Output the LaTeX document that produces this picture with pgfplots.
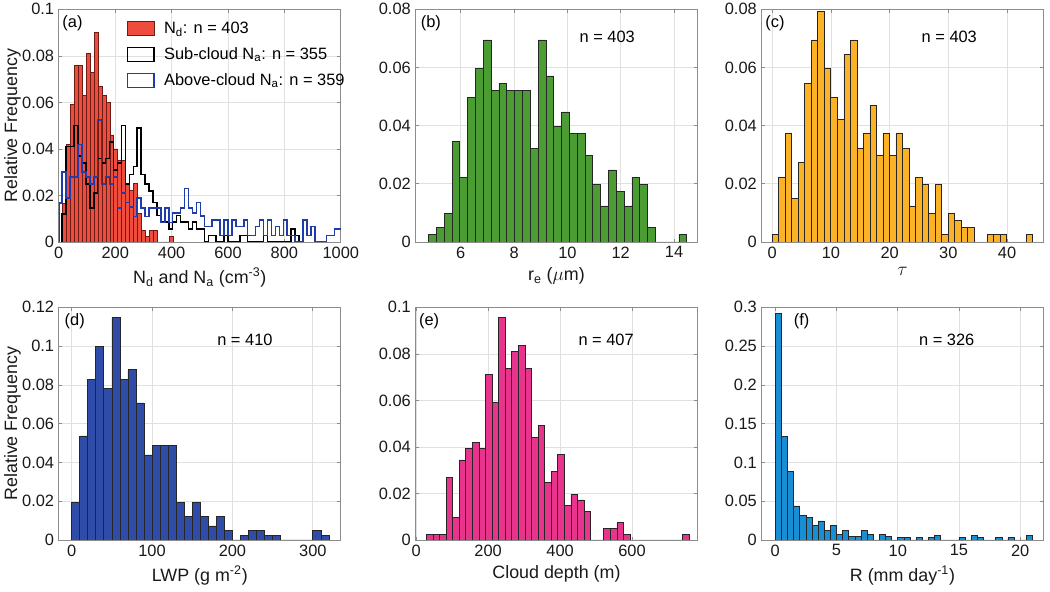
\documentclass[border=0pt]{standalone}
\usepackage{pgfplots}
\pgfplotsset{compat=1.18}
\usepackage{fontspec}
\setmainfont{Liberation Sans}
\definecolor{ndred}{RGB}{238,76,60}
\definecolor{nddark}{RGB}{110,28,22}
\definecolor{abblue}{RGB}{30,60,170}
\definecolor{regreen}{RGB}{76,156,52}
\definecolor{tauorange}{RGB}{252,178,38}
\definecolor{lwpblue}{RGB}{46,76,168}
\definecolor{cdpink}{RGB}{232,52,140}
\definecolor{rblue}{RGB}{24,142,212}
\newcommand{\lbl}{\fontsize{12.3}{14}\selectfont}
\pgfplotsset{
 mplot/.style={
  scale only axis, width=211.5pt, height=174.5pt, anchor=south west,
  axis line style={draw=black!45, line width=0.5pt},
  tick align=inside, major tick length=2.5pt,
  tick style={draw=black!45, line width=0.5pt},
  grid=major, major grid style={draw=black!12, line width=0.5pt},
  ymin=0, scaled y ticks=false, scaled x ticks=false,
  /pgf/number format/assume math mode=true,
  /pgf/number format/set thousands separator={},
  yticklabel style={/pgf/number format/fixed, /pgf/number format/precision=2},
  tick label style={font=\lbl, text=black!90},
  label style={font=\fontsize{13.4}{15}\selectfont, text=black!90},
  ylabel style={at={(axis description cs:-0.118,0.5)}, anchor=south},
 },
 hbar/.style={ybar interval, fill=#1, draw=black!85, line width=0.5pt},
}
\begin{document}
\begin{tikzpicture}
\path[use as bounding box] (0,0) rectangle (787.5pt,444pt);
% ---------------- (a)
\begin{axis}[mplot, at={(44.1pt,262.5pt)}, xmin=0, xmax=1000, ymax=0.1,
  xtick={0,200,400,600,800,1000}, ytick={0,0.02,0.04,0.06,0.08,0.1},
  xlabel={N\textsubscript{d} and N\textsubscript{a} (cm\textsuperscript{-3})},
  ylabel={Relative Frequency},
  legend cell align=left,
  legend style={at={(0.24,0.958)}, anchor=north west, draw=none, fill=none,
    font=\lbl, row sep=5pt, column sep=5pt, inner sep=0pt, nodes={inner sep=2pt}}]
\addplot[hbar=ndred, draw=nddark,
  legend image code/.code={\draw[fill=ndred,draw=nddark,line width=0.5pt] (0pt,-5.2pt) rectangle (20pt,5.2pt);}]
 table {
x y
13 0.0167
27 0.042
41 0.059
55 0.076
69 0.076
83 0.063
97 0.081
111 0.073
125 0.090
139 0.067
153 0.063
167 0.060
181 0.046
195 0.040
209 0.035
223 0.035
237 0.025
251 0.022
265 0.025
279 0.0124
293 0.005
307 0.0025
321 0.005
335 0.005
349 0
363 0
377 0
391 0.0025
405 0
};
\addlegendentry{N\textsubscript{d}: n = 403}
\addplot[const plot, draw=black, line width=1.1pt,
  legend image code/.code={\draw[black,line width=1pt] (0pt,-5.2pt) rectangle (20pt,5.2pt);}]
 table {
x y
12 0
12 0.012
26 0.041
40 0.041
54 0.050
68 0.037
82 0.034
96 0.025
110 0.0146
124 0.021
138 0.036
152 0.034
166 0.036
180 0.043
194 0.031
208 0.034
222 0.050
236 0.025
250 0.029
264 0.0325
278 0.049
292 0.029
306 0.025
320 0.022
334 0.017
348 0.0113
362 0.0085
376 0.0085
390 0.0056
404 0.0085
418 0.0113
432 0.0085
446 0.0085
460 0.0056
474 0.0085
488 0.0056
502 0.0056
516 0
530 0.0028
544 0.0028
558 0
572 0
586 0.0028
600 0
614 0
628 0
642 0.0028
656 0.0028
670 0
684 0
698 0
712 0
726 0.0028
740 0
754 0
768 0
782 0
796 0
810 0
824 0.0056
838 0.0028
852 0
};
\addlegendentry{Sub-cloud N\textsubscript{a}: n = 355}
\addplot[const plot, draw=abblue, line width=1.1pt,
  legend image code/.code={\draw[abblue,line width=1pt] (0pt,-5.2pt) rectangle (20pt,5.2pt);}]
 table {
x y
0 0
0 0.0167
12 0.030
26 0.019
40 0.028
54 0.028
68 0.042
82 0.030
96 0.028
110 0.025
124 0.028
138 0.0525
152 0.025
166 0.028
180 0.025
194 0.028
208 0.0146
222 0.021
236 0.017
250 0.015
264 0.011
278 0.019
292 0.0146
306 0.011
320 0.0146
334 0.0146
348 0.0146
362 0.0084
376 0.0146
390 0.0084
404 0.0125
418 0.0125
432 0.0146
446 0.023
460 0.0146
474 0.0125
488 0.017
502 0.0112
516 0.0067
530 0.0067
544 0.0095
558 0.0095
572 0.0028
586 0.0095
600 0.0028
614 0.0095
628 0.0067
642 0.0067
656 0.0095
670 0.0028
684 0.0028
698 0.0067
712 0.0095
726 0.0028
740 0.0095
754 0.0028
768 0.0067
782 0.0028
796 0.0095
810 0.0028
824 0.0028
838 0
852 0
866 0.0095
880 0.0028
894 0.0067
908 0
922 0
936 0
950 0.0028
964 0.0028
978 0.0056
992 0.0056
1006 0
};
\addlegendentry{Above-cloud N\textsubscript{a}: n = 359}
\node[anchor=north west, inner sep=0pt, font=\lbl] at (rel axis cs:0.012,0.975) {(a)};
\end{axis}
% ---------------- (b)
\begin{axis}[mplot, at={(311.6pt,262.5pt)}, xmin=4.3, xmax=14.88, ymax=0.08,
  xtick={6,8,10,12,14}, ytick={0,0.02,0.04,0.06,0.08},
  xlabel={r\textsubscript{e} ($\mu$m)}]
\addplot[hbar=regreen] table {
x y
4.790 0.0025
5.084 0.0050
5.377 0.0099
5.671 0.0347
5.964 0.0223
6.258 0.0496
6.551 0.0596
6.845 0.0695
7.138 0.0521
7.432 0.0546
7.725 0.0521
8.019 0.0521
8.312 0.0521
8.606 0.0323
8.899 0.0695
9.193 0.0571
9.486 0.0397
9.780 0.0447
10.073 0.0372
10.367 0.0372
10.660 0.0298
10.954 0.0199
11.247 0.0124
11.541 0.0248
11.834 0.0174
12.128 0.0124
12.421 0.0223
12.715 0.0199
13.008 0.0050
13.302 0
13.595 0
13.889 0
14.182 0.0025
14.476 0
};
\node[anchor=north west, inner sep=0pt, font=\lbl] at (rel axis cs:0.018,0.975) {(b)};
\node[font=\lbl] at (rel axis cs:0.68,0.88) {n = 403};
\end{axis}
% ---------------- (c)
\begin{axis}[mplot, at={(571.1pt,262.5pt)}, xmin=-1.83, xmax=46.2, ymax=0.08,
  xtick={0,10,20,30,40}, ytick={0,0.02,0.04,0.06,0.08},
  xlabel={$\tau$}]
\addplot[hbar=tauorange] table {
x y
0 0.0025
1.109 0.0223
2.218 0.0372
3.327 0.0149
4.436 0.0273
5.545 0.0546
6.654 0.0695
7.763 0.0794
8.872 0.0596
9.981 0.0496
11.090 0.0422
12.199 0.0645
13.308 0.0695
14.417 0.0323
15.526 0.0372
16.635 0.0471
17.744 0.0298
18.853 0.0372
19.962 0.0298
21.071 0.0372
22.180 0.0323
23.289 0.0124
24.398 0.0223
25.507 0.0199
26.616 0.0099
27.725 0.0199
28.834 0.0025
29.943 0.0099
31.052 0.0074
32.161 0.0050
33.270 0.0050
34.379 0
35.488 0
36.597 0.0025
37.706 0.0025
38.815 0.0025
39.924 0
41.033 0
42.142 0
43.251 0.0025
44.360 0
};
\node[anchor=north west, inner sep=0pt, font=\lbl] at (rel axis cs:0.013,0.975) {(c)};
\node[font=\lbl] at (rel axis cs:0.666,0.88) {n = 403};
\end{axis}
% ---------------- (d)
\begin{axis}[mplot, at={(44.1pt,39pt)}, xmin=-16, xmax=334.8, ymax=0.12,
  xtick={0,100,200,300}, ytick={0,0.02,0.04,0.06,0.08,0.1,0.12},
  xlabel={LWP (g m\textsuperscript{-2})}, ylabel={Relative Frequency}]
\addplot[hbar=lwpblue] table {
x y
0 0.0195
10 0.0537
20 0.0829
30 0.1000
40 0.0780
50 0.1146
60 0.0829
70 0.0878
80 0.0707
90 0.0439
100 0.0488
110 0.0488
120 0.0488
130 0.0195
140 0.0122
150 0.0195
160 0.0122
170 0.0073
180 0.0122
190 0.0049
200 0
210 0.0024
220 0.0049
230 0.0049
240 0.0024
250 0.0024
260 0
270 0
280 0
290 0
300 0.0049
310 0.0024
320 0
};
\node[anchor=north west, inner sep=0pt, font=\lbl] at (rel axis cs:0.02,0.973) {(d)};
\node[font=\lbl] at (rel axis cs:0.66,0.862) {n = 410};
\end{axis}
% ---------------- (e)
\begin{axis}[mplot, at={(311.6pt,39pt)}, xmin=-2, xmax=782, ymax=0.1,
  xtick={0,200,400,600}, ytick={0,0.02,0.04,0.06,0.08,0.1},
  xlabel={Cloud depth (m)}]
\addplot[hbar=cdpink] table {
x y
28.30 0.0025
46.57 0.0025
64.84 0.0025
83.11 0.0270
101.38 0.0098
119.65 0.0344
137.92 0.0393
156.19 0.0418
174.46 0.0393
192.73 0.0713
211.00 0.0590
229.27 0.0958
247.54 0.0737
265.81 0.0811
284.08 0.0835
302.35 0.0737
320.62 0.0442
338.89 0.0491
357.16 0.0246
375.43 0.0295
393.70 0.0369
411.97 0.0147
430.24 0.0197
448.51 0.0172
466.78 0.0123
485.05 0
503.32 0
521.59 0.0049
539.86 0.0049
558.13 0.0074
576.40 0.0025
594.67 0
612.94 0
631.21 0
649.48 0
667.75 0
686.02 0
704.29 0
722.56 0
740.83 0.0025
759.10 0
};
\node[anchor=north west, inner sep=0pt, font=\lbl] at (rel axis cs:0.012,0.973) {(e)};
\node[font=\lbl] at (rel axis cs:0.676,0.862) {n = 407};
\end{axis}
% ---------------- (f)
\begin{axis}[mplot, at={(571.1pt,39pt)}, xmin=-1.13, xmax=21.9, ymax=0.3,
  xtick={0,5,10,15,20}, ytick={0,0.05,0.1,0.15,0.2,0.25,0.3},
  xlabel={R (mm day\textsuperscript{-1})}]
\addplot[hbar=rblue] table {
x y
0 0.292
0.5 0.134
1 0.088
1.5 0.044
2 0.032
2.5 0.029
3 0.019
3.5 0.0245
4 0.0123
4.5 0.0184
5 0.0074
5.5 0.0123
6 0.0049
6.5 0.0049
7 0.0123
7.5 0.0074
8 0
8.5 0.0074
9 0.0049
9.5 0
10 0.0031
10.5 0.0031
11 0
11.5 0.0031
12 0
12.5 0.0031
13 0.0061
13.5 0
14 0
14.5 0
15 0.0031
15.5 0
16 0.0061
16.5 0.0031
17 0
17.5 0
18 0.0031
18.5 0
19 0.0031
19.5 0
20 0
20.5 0.0061
21 0
};
\node[anchor=north west, inner sep=0pt, font=\lbl] at (rel axis cs:0.114,0.973) {(f)};
\node[font=\lbl] at (rel axis cs:0.657,0.862) {n = 326};
\end{axis}
\end{tikzpicture}
\end{document}
